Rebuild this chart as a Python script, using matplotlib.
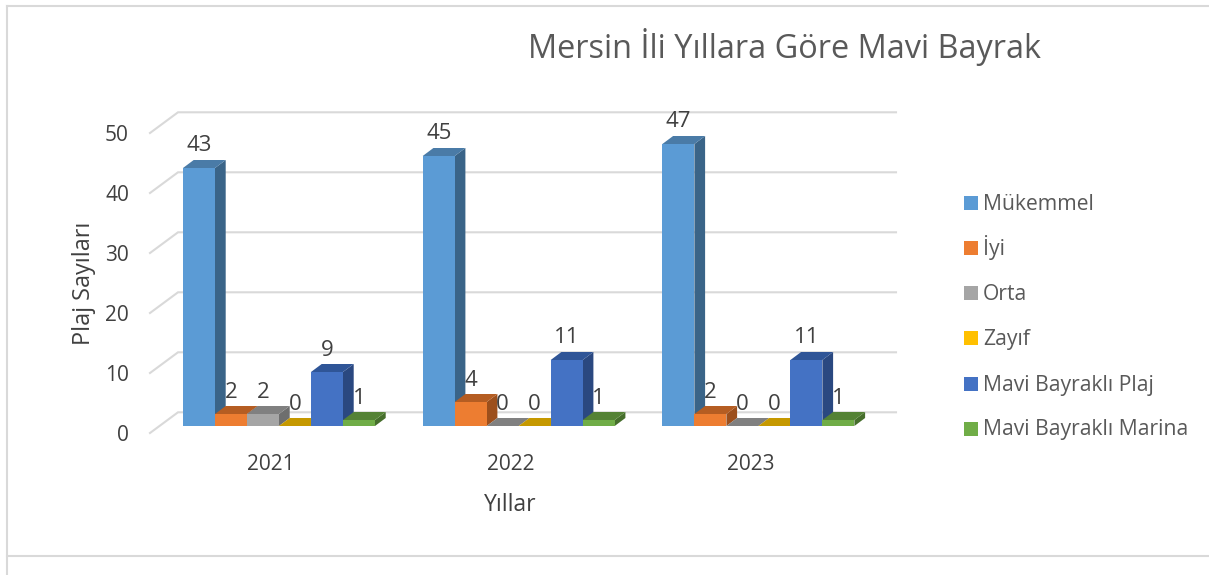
import matplotlib
matplotlib.use("Agg")
import matplotlib.pyplot as plt
from matplotlib.patches import Polygon, Rectangle

plt.rcParams['font.family'] = ['Open Sans', 'DejaVu Sans']

years = ["2021", "2022", "2023"]
series = ["Mükemmel", "İyi", "Orta", "Zayıf", "Mavi Bayraklı Plaj", "Mavi Bayraklı Marina"]
mukemmel = [43, 45, 47]
iyi = [2, 4, 2]
orta = [2, 0, 0]
zayif = [0, 0, 0]
plaj = [9, 11, 11]
marina = [1, 1, 1]
values = [mukemmel, iyi, orta, zayif, plaj, marina]
y_ticks = [0, 10, 20, 30, 40, 50]

front = ["#5B9BD5", "#ED7D31", "#A5A5A5", "#FFC000", "#4472C4", "#70AD47"]
top = ["#4A7BA7", "#B55D22", "#808080", "#C69900", "#2F5597", "#548235"]
side = ["#3A6488", "#9C4F1C", "#6E6E6E", "#A67F00", "#2A4880", "#466E2C"]

W, H = 1209, 575
# pixel layout of the plot: group spacing, px per unit, origin
GROUP = 239.7
UNIT = 6.0
X0, Y0 = 279.0, 426.0

fig = plt.figure(figsize=(W / 100, H / 100), dpi=100)
ax = fig.add_axes([0, 0, 1, 1])
ax.set_xlim(-X0 / GROUP, (W - X0) / GROUP)
ax.set_ylim((Y0 - H) / UNIT, Y0 / UNIT)
ax.axis("off")


def dx(px):
    return px / GROUP


def dy(px):
    return px / UNIT


def xp(px):
    return (px - X0) / GROUP


def yp(px):
    return (Y0 - px) / UNIT


# outer frame of the pasted chart
grid_c = "#D9D9D9"
ax.plot([xp(7), xp(7)], [yp(6), yp(575)], color=grid_c, lw=1.5, zorder=1)
ax.plot([xp(7), xp(1209)], [yp(6), yp(6)], color=grid_c, lw=1.5, zorder=1)
ax.plot([xp(7), xp(1209)], [yp(556), yp(556)], color=grid_c, lw=1.5, zorder=1)

# gridlines: slanted floor part + back wall
for v in y_ticks:
    back = v + dy(13.7)
    ax.plot([xp(150), xp(178), xp(896)], [v - dy(7), back, back],
            color=grid_c, lw=1.5, zorder=2, solid_joinstyle="miter")
    ax.text(xp(129), v - dy(9.5), str(v), ha="right", va="center",
            fontsize=15, color="#404040")

bar_w = dx(32)
depth_x = dx(10.7)
depth_y = dy(8)
z = 3
for g in range(len(years)):
    for s in range(len(series)):
        v = values[s][g]
        x = g + (s - 3) * bar_w
        # side, top, then front so later bars sit over earlier ones
        if v > 0:
            ax.add_patch(Polygon([(x + bar_w, 0), (x + bar_w + depth_x, depth_y),
                                  (x + bar_w + depth_x, v + depth_y), (x + bar_w, v)],
                                 facecolor=side[s], edgecolor="none", zorder=z))
        ax.add_patch(Polygon([(x, v), (x + depth_x, v + depth_y),
                              (x + bar_w + depth_x, v + depth_y), (x + bar_w, v)],
                             facecolor=top[s], edgecolor="none", zorder=z))
        ax.bar(x, v, width=bar_w, align="edge", color=front[s], zorder=z)
        z += 1
        ax.annotate(str(v), (x + dx(16), v), xytext=(0, 22 * 0.72),
                    textcoords="offset points", ha="center", va="center",
                    fontsize=16, color="#404040", zorder=50)

for g, year in enumerate(years):
    ax.text(g + dx(-8), yp(465), year, ha="center", va="center", fontsize=15, color="#404040")

ax.text(xp(510), yp(505), "Yıllar", ha="center", va="center", fontsize=16.5, color="#404040")
ax.text(xp(84), yp(283), "Plaj Sayıları", ha="center", va="center", rotation=90,
        fontsize=16.8, color="#404040")
ax.text(xp(784), yp(47), "Mersin İli Yıllara Göre Mavi Bayrak", ha="center", va="center",
        fontsize=23.4, color="#595959")

# legend built by hand, the row pitch is even in the original
for i, name in enumerate(series):
    base = 210.5 + i * 45
    ax.add_patch(Rectangle((xp(964), yp(base)), dx(14), dy(14), facecolor=front[i],
                           edgecolor="none", zorder=60))
    ax.text(xp(983), yp(base), name, ha="left", va="baseline", fontsize=15.2, color="#595959")

fig.savefig("out.png", dpi=100)
